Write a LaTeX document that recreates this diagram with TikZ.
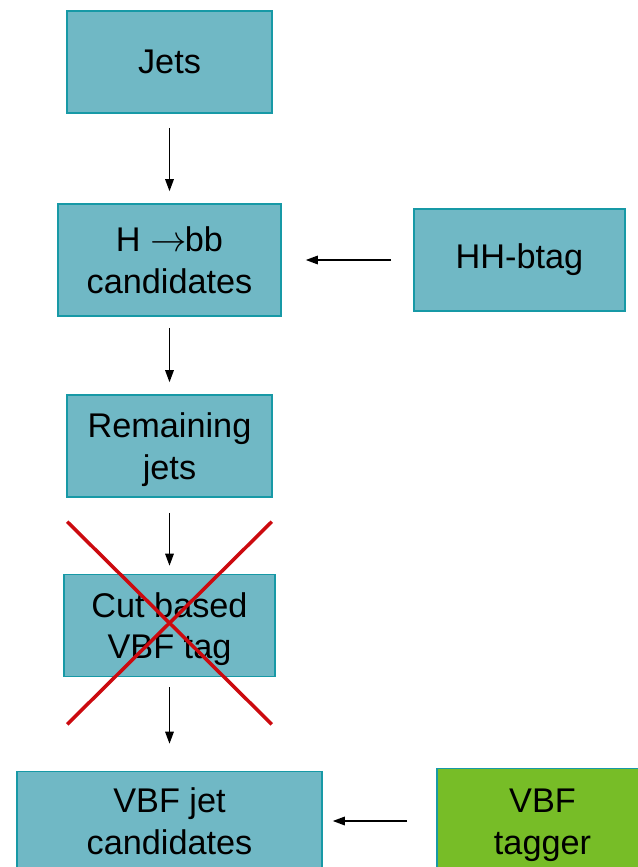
\documentclass[tikz,border=0pt]{standalone}
\usepackage{fontspec}
\setmainfont{Liberation Sans}
\usepackage{xcolor}
\usepackage{tikz}
\usetikzlibrary{positioning,arrows.meta,calc}

\definecolor{boxteal}{HTML}{70B8C5}
\definecolor{edgeteal}{HTML}{1799A6}
\definecolor{taggreen}{HTML}{77BD27}
\definecolor{crossred}{HTML}{CC0A0F}

\begin{document}
\begin{tikzpicture}[
    x=0.02cm,
    y=-0.02cm,
    font=\fontsize{19.5}{23.8}\selectfont,
    box/.style={
        draw=edgeteal,
        line width=0.9pt,
        fill=boxteal,
        inner sep=0pt,
        minimum width=4.1cm,
        minimum height=2.04cm,
        align=center
    },
    twoline/.style={text height=38.5pt, text depth=0.5pt},
    tagbox/.style={
        box,
        fill=taggreen
    },
    arr/.style={-{Triangle[length=0.24cm,width=0.17cm]}, line width=0.85pt},
    cross/.style={crossred, line width=2pt}
]
\clip (0,0) rectangle (638,867);
\fill[white] (0,0) rectangle (638,867);

\node[box] (jets) at (169.5,62) {Jets};

\node[box, twoline, minimum width=4.46cm, minimum height=2.24cm] (hbb) at (169.5,260)
{H $\rightarrow$\hspace{-1pt}bb\\candidates};

\node[box, minimum width=4.22cm] (hhbtag) at (519.5,260) {HH-btag};

\node[box, twoline] (remain) at (169.5,446) {Remaining\\jets};

\node[box, twoline, minimum width=4.22cm] (cutvbf) at (169.5,625.5) {Cut based\\VBF tag};

\node[box, twoline, minimum width=6.1cm, minimum height=1.98cm] (vbfjet) at (169.5,821)
{VBF jet\\candidates};

\node[tagbox, twoline, minimum width=4.22cm, minimum height=2.1cm] (vbftag) at (542.5,821)
{VBF\\tagger};

\draw[arr] ($(jets.south)+(0,14)$) -- ($(hbb.north)+(0,-12)$);
\draw[arr] ($(hbb.south)+(0,11)$) -- ($(remain.north)+(0,-12)$);
\draw[arr] ($(remain.south)+(0,15)$) -- ($(cutvbf.north)+(0,-8)$);
\draw[arr] ($(cutvbf.south)+(0,10)$) -- ($(vbfjet.north)+(0,-27)$);
\draw[arr] ($(hhbtag.west)+(-22,0)$) -- ($(hbb.east)+(24,0)$);
\draw[arr] ($(vbftag.west)+(-29,0)$) -- ($(vbfjet.east)+(10,0)$);

\draw[cross] ($(cutvbf.north west)+(4,-52)$) -- ($(cutvbf.south east)+(-4,47)$);
\draw[cross] ($(cutvbf.north east)+(-4,-52)$) -- ($(cutvbf.south west)+(4,47)$);

\end{tikzpicture}
\end{document}
